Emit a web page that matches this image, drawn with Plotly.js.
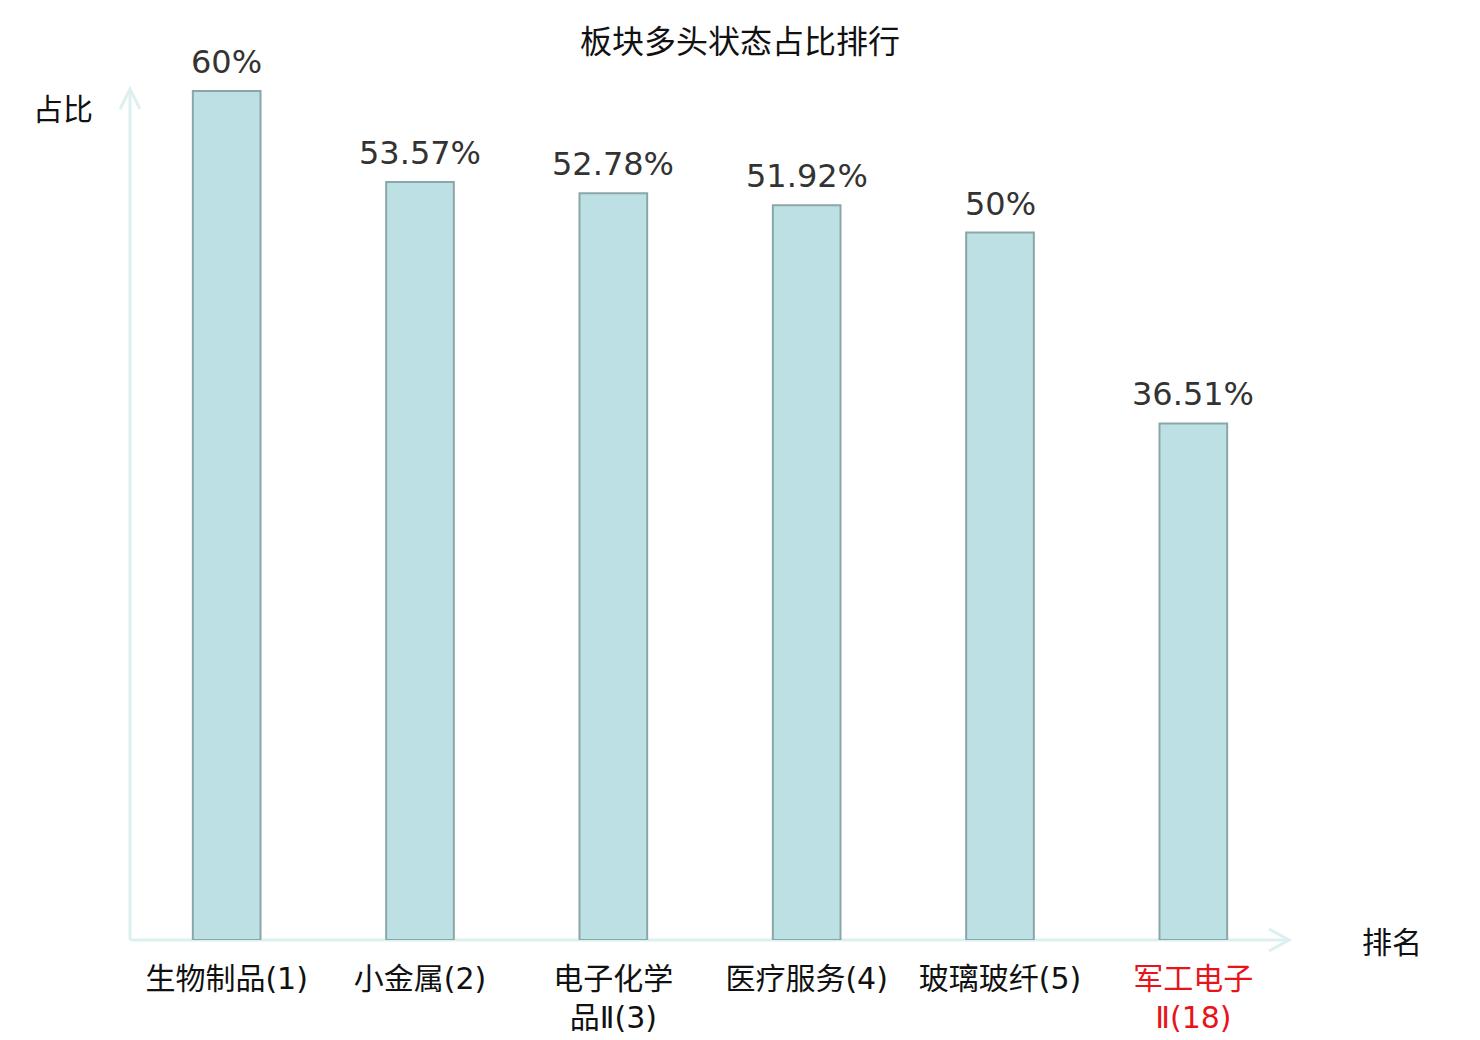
<!DOCTYPE html>
<html>
<head>
<meta charset="utf-8">
<script src="https://cdn.plot.ly/plotly-3.0.1.min.js"></script>
<style>
  html, body { margin: 0; padding: 0; background: #fff; }
  #chart { width: 1480px; height: 1040px; }
</style>
</head>
<body>
<div id="chart"></div>
<script>
// chart data
const categories = ['生物制品(1)', '小金属(2)', '电子化学品Ⅱ(3)', '医疗服务(4)', '玻璃玻纤(5)', '军工电子Ⅱ(18)'];
const tickLabels = ['生物制品(1)', '小金属(2)', '电子化学<br>品Ⅱ(3)', '医疗服务(4)', '玻璃玻纤(5)',
    '<span style="color:#e8141a">军工电子<br>Ⅱ(18)</span>'];
const shares = [60, 53.57, 52.78, 51.92, 50, 36.51];

const FONT = 'DejaVu Sans, "Noto Sans CJK SC", sans-serif';
const AXIS_COLOR = '#dcf1ef';

// pixel -> paper helpers (plot area 130..1290 x 80..940)
const px = v => (v - 130) / 1160;
const py = v => (940 - v) / 860;

const data = [{
    type: 'bar',
    x: categories,
    y: shares,
    marker: {
        color: '#bce0e3',
        line: { color: '#8aa6a7', width: 2 }
    },
    hoverinfo: 'skip'
}];

const labels = categories.map((c, i) => ({
    x: c,
    y: shares[i],
    xref: 'x',
    yref: 'y',
    text: shares[i] + '%',
    showarrow: false,
    yanchor: 'bottom',
    yshift: 8,
    font: { family: FONT, size: 32, color: '#333333' }
}));

const layout = {
    width: 1480,
    height: 1040,
    margin: { l: 130, r: 190, t: 80, b: 100 },
    paper_bgcolor: '#ffffff',
    plot_bgcolor: '#ffffff',
    bargap: 0.65,
    showlegend: false,
    title: {
        text: '板块多头状态占比排行',
        x: 0.5,
        xanchor: 'center',
        y: 0.96,
        yanchor: 'middle',
        font: { family: FONT, size: 32, color: '#111111' }
    },
    xaxis: {
        tickvals: categories,
        ticktext: tickLabels,
        showline: false,
        showgrid: false,
        zeroline: false,
        ticks: '',
        ticklabelstandoff: 18,
        tickfont: { family: FONT, size: 30, color: '#111111' },
        fixedrange: true
    },
    yaxis: {
        range: [0, 60.78],
        showline: false,
        showgrid: false,
        zeroline: false,
        showticklabels: false,
        ticks: '',
        fixedrange: true
    },
    shapes: [
        // x axis with arrow
        { type: 'line', xref: 'paper', yref: 'paper', x0: 0, y0: 0, x1: px(1288), y1: 0,
          line: { color: AXIS_COLOR, width: 3 }, layer: 'below' },
        { type: 'path', xref: 'paper', yref: 'paper',
          path: `M ${px(1269)} ${py(929)} L ${px(1289)} ${py(940)} L ${px(1269)} ${py(951)}`,
          line: { color: AXIS_COLOR, width: 3 } },
        // y axis with arrow
        { type: 'line', xref: 'paper', yref: 'paper', x0: 0, y0: 0, x1: 0, y1: py(90),
          line: { color: AXIS_COLOR, width: 3 }, layer: 'below' },
        { type: 'path', xref: 'paper', yref: 'paper',
          path: `M ${px(120)} ${py(109)} L ${px(130)} ${py(89)} L ${px(140)} ${py(109)}`,
          line: { color: AXIS_COLOR, width: 3 } }
    ],
    annotations: labels.concat([
        { xref: 'paper', yref: 'paper', x: px(63), y: py(110), text: '占比', showarrow: false,
          xanchor: 'center', yanchor: 'middle', font: { family: FONT, size: 30, color: '#111111' } },
        { xref: 'paper', yref: 'paper', x: px(1392), y: py(942), text: '排名', showarrow: false,
          xanchor: 'center', yanchor: 'middle', font: { family: FONT, size: 30, color: '#111111' } }
    ])
};

Plotly.newPlot('chart', data, layout, { displayModeBar: false, staticPlot: true });
</script>
</body>
</html>
